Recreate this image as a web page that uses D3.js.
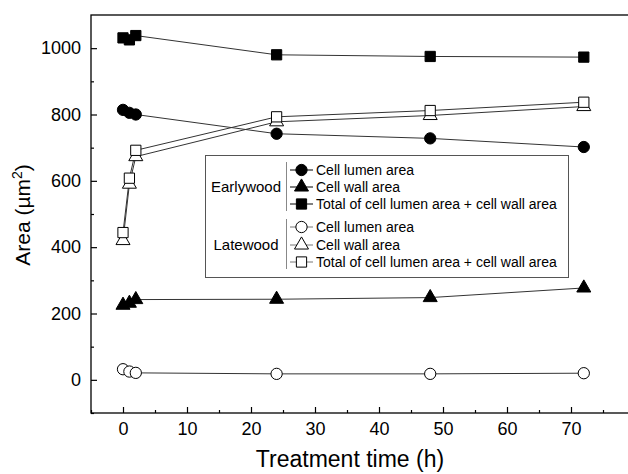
<!DOCTYPE html>
<html>
<head>
<meta charset="utf-8">
<script src="https://cdn.jsdelivr.net/npm/d3@7"></script>
<style>
  body { margin: 0; background: #fff; }
  svg { font-family: "Liberation Sans", Arial, sans-serif; }
</style>
</head>
<body>
<script>
// data
var times = [0, 1, 2, 24, 48, 72];
var ewLumen = [814, 805, 800, 742, 728, 702];
var ewWall = [225, 231, 242, 243, 248, 277];
var ewTotal = [1031, 1025, 1038, 980, 975, 973];
var lwLumen = [32, 25, 21, 18, 18, 20];
var lwWall = [420, 590, 673, 778, 797, 824];
var lwTotal = [444, 608, 692, 793, 812, 837];
var xTicks = [0, 10, 20, 30, 40, 50, 60, 70];
var yTicks = [0, 200, 400, 600, 800, 1000];
var legendLabels = ["Cell lumen area", "Cell wall area", "Total of cell lumen area + cell wall area"];

var w = 628, h = 474;
var padL = 91, padT = 15, padB = 413, padR = 635;

var svg = d3.select("body").append("svg")
  .attr("width", w).attr("height", h);

var x = d3.scaleLinear().domain([-5, 80]).range([padL, padR]);
var y = d3.scaleLinear().domain([-100, 1100]).range([padB, padT]);

// frame
svg.append("rect")
  .attr("x", padL).attr("y", padT)
  .attr("width", padR - padL).attr("height", padB - padT)
  .attr("fill", "none").attr("stroke", "#000").attr("stroke-width", 1.3);

// ticks (inward, with minors)
var xAxis = d3.axisBottom(x).tickValues(xTicks).tickSizeInner(-6).tickSizeOuter(0).tickPadding(9)
  .tickFormat(d3.format("d"));
var xMinor = d3.axisBottom(x).tickValues(d3.range(-5, 80, 10)).tickSizeInner(-3).tickSizeOuter(0).tickFormat("");
var yAxis = d3.axisLeft(y).tickValues(yTicks).tickSizeInner(-6).tickSizeOuter(0).tickPadding(10)
  .tickFormat(d3.format("d"));
var yMinor = d3.axisLeft(y).tickValues(d3.range(-100, 1100, 200)).tickSizeInner(-3).tickSizeOuter(0).tickFormat("");

function styleAxis(g) {
  g.select(".domain").remove();
  g.selectAll("line").attr("stroke", "#000").attr("stroke-width", 1.2);
  g.selectAll("text").attr("fill", "#000").style("font-size", "18px")
    .style("font-family", "'Liberation Sans', Arial, sans-serif");
}
svg.append("g").attr("transform", "translate(0," + padB + ")").call(xAxis).call(styleAxis);
svg.append("g").attr("transform", "translate(0," + padB + ")").call(xMinor).call(styleAxis);
svg.append("g").attr("transform", "translate(" + padL + ",0)").call(yAxis).call(styleAxis);
svg.append("g").attr("transform", "translate(" + padL + ",0)").call(yMinor).call(styleAxis);

// axis titles
svg.append("text")
  .attr("x", 350).attr("y", 467)
  .attr("text-anchor", "middle")
  .style("font-size", "23px")
  .text("Treatment time (h)");

var yt = svg.append("text")
  .attr("transform", "translate(30,215) rotate(-90)")
  .attr("text-anchor", "middle")
  .style("font-size", "21px");
yt.append("tspan").text("Area (\u00b5m");
yt.append("tspan").attr("dy", -8).style("font-size", "14px").text("2");
yt.append("tspan").attr("dy", 8).text(")");

// series
var series = [
  { vals: ewTotal, shape: "square", fill: "#000" },
  { vals: ewLumen, shape: "circle", fill: "#000" },
  { vals: ewWall, shape: "triangle", fill: "#000" },
  { vals: lwLumen, shape: "circle", fill: "#fff" },
  { vals: lwWall, shape: "triangle", fill: "#fff" },
  { vals: lwTotal, shape: "square", fill: "#fff" }
];

var symType = { circle: d3.symbolCircle, square: d3.symbolSquare, triangle: d3.symbolTriangle };
var symSize = { circle: 100, square: 105, triangle: 85 };

var line = d3.line()
  .x(function(d) { return x(d[0]); })
  .y(function(d) { return y(d[1]); });

series.forEach(function(s) {
  var pts = times.map(function(t, i) { return [t, s.vals[i]]; });
  svg.append("path")
    .attr("d", line(pts))
    .attr("fill", "none")
    .attr("stroke", "#333")
    .attr("stroke-width", 1);
});

series.forEach(function(s) {
  var pts = times.map(function(t, i) { return [t, s.vals[i]]; });
  svg.selectAll(null).data(pts).enter().append("path")
    .attr("transform", function(d) { return "translate(" + x(d[0]) + "," + y(d[1]) + ")"; })
    .attr("d", d3.symbol().type(symType[s.shape]).size(symSize[s.shape]))
    .attr("fill", s.fill)
    .attr("stroke", "#000")
    .attr("stroke-width", 1);
});

// legend
var lg = svg.append("g");
lg.append("rect")
  .attr("x", 205.5).attr("y", 155.5).attr("width", 363).attr("height", 122)
  .attr("fill", "#fff").attr("stroke", "#555").attr("stroke-width", 1);

var groups = [
  { name: "Earlywood", fill: "#000", lineCol: "#000", rows: [170, 187, 204] },
  { name: "Latewood", fill: "#fff", lineCol: "#777", rows: [227, 245, 262] }
];
var shapes = ["circle", "triangle", "square"];

groups.forEach(function(gr) {
  var mid = (gr.rows[0] + gr.rows[2]) / 2;
  lg.append("text").attr("x", 246).attr("y", mid + 5)
    .attr("text-anchor", "middle").style("font-size", "15px").text(gr.name);
  lg.append("line")
    .attr("x1", 286.5).attr("x2", 286.5)
    .attr("y1", gr.rows[0] - 8).attr("y2", gr.rows[2] + 7)
    .attr("stroke", "#888").attr("stroke-width", 1);
  gr.rows.forEach(function(ry, i) {
    lg.append("line").attr("x1", 290).attr("x2", 313).attr("y1", ry).attr("y2", ry)
      .attr("stroke", gr.lineCol).attr("stroke-width", 1);
    lg.append("path")
      .attr("transform", "translate(301.5," + ry + ")")
      .attr("d", d3.symbol().type(symType[shapes[i]]).size(symSize[shapes[i]]))
      .attr("fill", gr.fill).attr("stroke", "#000").attr("stroke-width", 1);
    lg.append("text").attr("x", 316).attr("y", ry + 5)
      .style("font-size", "14px").text(legendLabels[i]);
  });
});
</script>
</body>
</html>
